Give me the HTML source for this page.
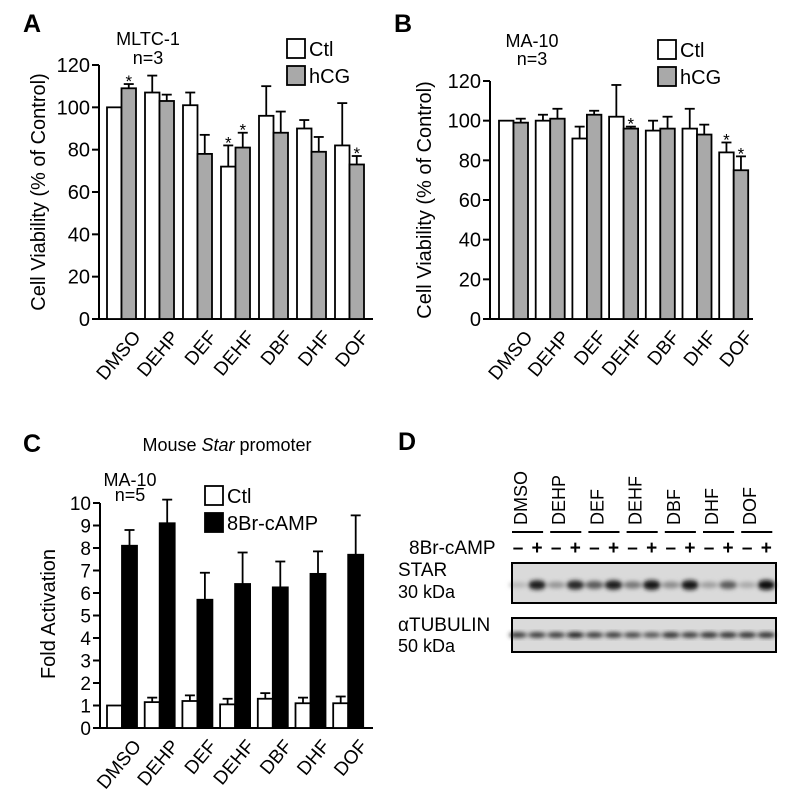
<!DOCTYPE html>
<html><head><meta charset="utf-8"><style>
body{margin:0;background:#fff}
svg{display:block;font-family:"Liberation Sans",Arial,sans-serif}
</style></head><body>
<svg id="fig" width="795" height="806" viewBox="0 0 795 806">
<defs><filter id="blur" x="-50%" y="-50%" width="200%" height="200%"><feGaussianBlur stdDeviation="2"/></filter></defs>
</svg>
<script>
const categories=["DMSO","DEHP","DEF","DEHF","DBF","DHF","DOF"];
const aCtl=[100,107,101,72,96,90,82];
const aCtlErr=[0,8,6,10,14,4,20];
const aHcg=[109,103,78,81,88,79,73];
const aHcgErr=[2,3,9,7,10,7,4];
const aStarsCtl=[0,0,0,1,0,0,0];
const aStarsTrt=[1,0,0,1,0,0,1];
const bCtl=[100,100,91,102,95,96,84];
const bCtlErr=[0,3,6,16,5,10,5];
const bHcg=[99,101,103,96,96,93,75];
const bHcgErr=[2,5,2,1,6,5,7];
const bStarsCtl=[0,0,0,0,0,0,1];
const bStarsTrt=[0,0,0,1,0,0,1];
const cCtl=[1,1.15,1.2,1.05,1.3,1.1,1.1];
const cCtlErr=[0,0.2,0.25,0.25,0.25,0.25,0.3];
const cAmp=[8.1,9.1,5.7,6.4,6.25,6.85,7.7];
const cAmpErr=[0.7,1.05,1.2,1.4,1.15,1.0,1.75];
const abTicks=[0,20,40,60,80,100,120];
const cTicks=[0,1,2,3,4,5,6,7,8,9,10];
const starBands=[0.12,0.9,0.3,0.85,0.6,0.9,0.45,0.95,0.35,0.95,0.25,0.6,0.2,1.0];
const tubBands=[0.8,0.8,0.8,0.9,0.8,0.8,0.75,0.7,0.85,0.8,0.85,0.85,0.85,0.85];

const svg=document.getElementById('fig');
const NS='http://www.w3.org/2000/svg';
function el(tag,attrs,parent,text){const e=document.createElementNS(NS,tag);for(const k in attrs)e.setAttribute(k,attrs[k]);if(text!==undefined)e.textContent=text;(parent||svg).appendChild(e);return e;}

function chart(o){
  const g=el('g',{},svg);
  
  
  const y=v=>o.y0-(v-o.vmin)/(o.vmax-o.vmin)*(o.y0-o.y1);
  const gx=i=>o.gx0+i*o.gstep;
  const ya=el('line',{x1:o.ax,y1:y(o.vmax),x2:o.ax,y2:o.y0,stroke:'#000','stroke-width':2},g);
  
  const xa=el('line',{x1:o.ax-7,y1:o.y0,x2:o.axEnd,y2:o.y0,stroke:'#000','stroke-width':2},g);
  
  o.ticks.forEach(t=>{
    el('line',{x1:o.ax-7,y1:y(t),x2:o.ax,y2:y(t),stroke:'#000','stroke-width':2},g);
    const tl=el('text',{x:o.ax-9,y:y(t)+7,'text-anchor':'end','font-size':o.tfs},g,t);
    
  });
  categories.forEach((c,i)=>{
    const series=[[o.s1,o.e1,o.c1,o.st1],[o.s2,o.e2,o.c2,o.st2]];
    series.forEach((s,k)=>{
      const x=gx(i)+k*o.bw, v=s[0][i], e=s[1][i], cx=x+o.bw/2;
      if(e>0){
        el('line',{x1:cx,y1:y(v),x2:cx,y2:y(v+e),stroke:'#000','stroke-width':1.8},g);
        el('line',{x1:cx-5,y1:y(v+e),x2:cx+5,y2:y(v+e),stroke:'#000','stroke-width':1.8},g);
      }
      const r=el('rect',{x:x,y:y(v),width:o.bw,height:o.y0-y(v),fill:s[2],stroke:'#000','stroke-width':1.8},g);
      
      
      if(s[3]&&s[3][i]){
        const st=el('text',{x:cx,y:y(v+e)+3,'text-anchor':'middle','font-size':17},g,'*');
        
      }
    });
    const cx=gx(i)+o.bw+10, cy=o.y0+10;
    const lb=el('text',{x:cx,y:cy,'text-anchor':'end','font-size':19,transform:`rotate(-50 ${cx} ${cy})`,dy:'0.7em'},g,c);
    
  });
  const yt=el('text',{x:o.ylx,y:o.yly,'text-anchor':'middle','font-size':20,transform:`rotate(-90 ${o.ylx} ${o.yly})`},g,o.ylabel);
  
}
function legend(x,y,gap,labels,fills,name){
  labels.forEach((l,i)=>{
    const g=el('g',{},svg);
    
    
    el('rect',{x:x,y:y+i*gap,width:18,height:19,fill:fills[i],stroke:'#000','stroke-width':1.8},g);
    el('text',{x:x+22,y:y+i*gap+17,'font-size':20},g,l);
  });
}
function label(x,y,t,fs,name,bold,anchor){
  const e=el('text',{x:x,y:y,'font-size':fs,'font-weight':bold?'bold':'normal','text-anchor':anchor||'start'},svg,t);
  return e;
}

label(23,32,'A',25,'panel-a-label',true);
label(148,45,'MLTC-1',18,'cell-line-label','', 'middle');
label(148,64,'n=3',18,'n-label','', 'middle');
legend(287,39,27,['Ctl','hCG'],['#fff','#a9a9a9'],'panel-a');
chart({name:'panel-a-chart',ax:99,axEnd:373,y0:319,y1:65,vmin:0,vmax:120,ticks:abTicks,tfs:20,gx0:107,gstep:38,bw:14.5,
  s1:aCtl,e1:aCtlErr,c1:'#fff',st1:aStarsCtl,s2:aHcg,e2:aHcgErr,c2:'#a9a9a9',st2:aStarsTrt,ylx:45,yly:192,ylabel:'Cell Viability (% of Control)'});
label(394,32,'B',25,'panel-b-label',true);
label(532,47,'MA-10',18,'cell-line-label','', 'middle');
label(532,65,'n=3',18,'n-label','', 'middle');
legend(658,40,27,['Ctl','hCG'],['#fff','#a9a9a9'],'panel-b');
chart({name:'panel-b-chart',ax:490,axEnd:753,y0:319,y1:81,vmin:0,vmax:120,ticks:abTicks,tfs:20,gx0:499,gstep:36.7,bw:14.5,
  s1:bCtl,e1:bCtlErr,c1:'#fff',st1:bStarsCtl,s2:bHcg,e2:bHcgErr,c2:'#a9a9a9',st2:bStarsTrt,ylx:431,yly:200,ylabel:'Cell Viability (% of Control)'});
label(23,452,'C',25,'panel-c-label',true);
const ct=label(227,451,'',18,'chart-title','', 'middle');
ct.innerHTML='Mouse <tspan font-style="italic">Star</tspan> promoter';
label(130,486,'MA-10',18,'cell-line-label','', 'middle');
label(130,501,'n=5',18,'n-label','', 'middle');
legend(205,486,27,['Ctl','8Br-cAMP'],['#fff','#000'],'panel-c');
chart({name:'panel-c-chart',ax:100,axEnd:373,y0:728,y1:503,vmin:0,vmax:10,ticks:cTicks,tfs:19,gx0:107,gstep:37.7,bw:15,
  s1:cCtl,e1:cCtlErr,c1:'#fff',st1:null,s2:cAmp,e2:cAmpErr,c2:'#000',st2:null,ylx:55,yly:614,ylabel:'Fold  Activation'});

label(398,450,'D',25,'panel-d-label',true);
const lane0=518, lstep=19.1;
categories.forEach((c,i)=>{
  const x1=lane0+2*i*lstep-6, x2=lane0+(2*i+1)*lstep+6;
  const ln=el('line',{x1:x1,y1:532,x2:x2,y2:532,stroke:'#000','stroke-width':2});
  
  const tx=x1+2, ty=525;
  const t=el('text',{x:tx,y:ty,'font-size':18,transform:`rotate(-90 ${tx} ${ty})`,dy:'0.72em'},svg,c);
  
});
label(409,554,'8Br-cAMP',19,'treatment-label');
for(let i=0;i<14;i++){
  const t=el('text',{x:lane0+i*lstep,y:554,'text-anchor':'middle','font-size':19,'font-weight':'bold'},svg,i%2?'+':'–');
  
}
label(398,576,'STAR',19,'star-label');
label(398,598,'30 kDa',18,'star-kda');
label(398,631,'αTUBULIN',19,'tubulin-label');
label(398,652,'50 kDa',18,'tubulin-kda');
function blot(y1,y2,bandY,vals,name,h){
  const g=el('g',{},svg);
  
  
  el('rect',{x:512,y:y1,width:264,height:y2-y1,fill:'#dadada'},g);
  const bg=el('g',{filter:'url(#blur)'},g);
  vals.forEach((v,i)=>{
    const s=Math.round(205-195*v);
    el('ellipse',{cx:lane0+i*lstep,cy:bandY,rx:9,ry:h*(0.5+0.5*v),fill:`rgb(${s},${s},${s})`},bg);
  });
  el('rect',{x:512,y:y1,width:264,height:y2-y1,fill:'none',stroke:'#000','stroke-width':2},g);
}
blot(563,603,585,starBands,'star-blot',5);
blot(618,652,635,tubBands,'tubulin-blot',3);
</script>
</body></html>
